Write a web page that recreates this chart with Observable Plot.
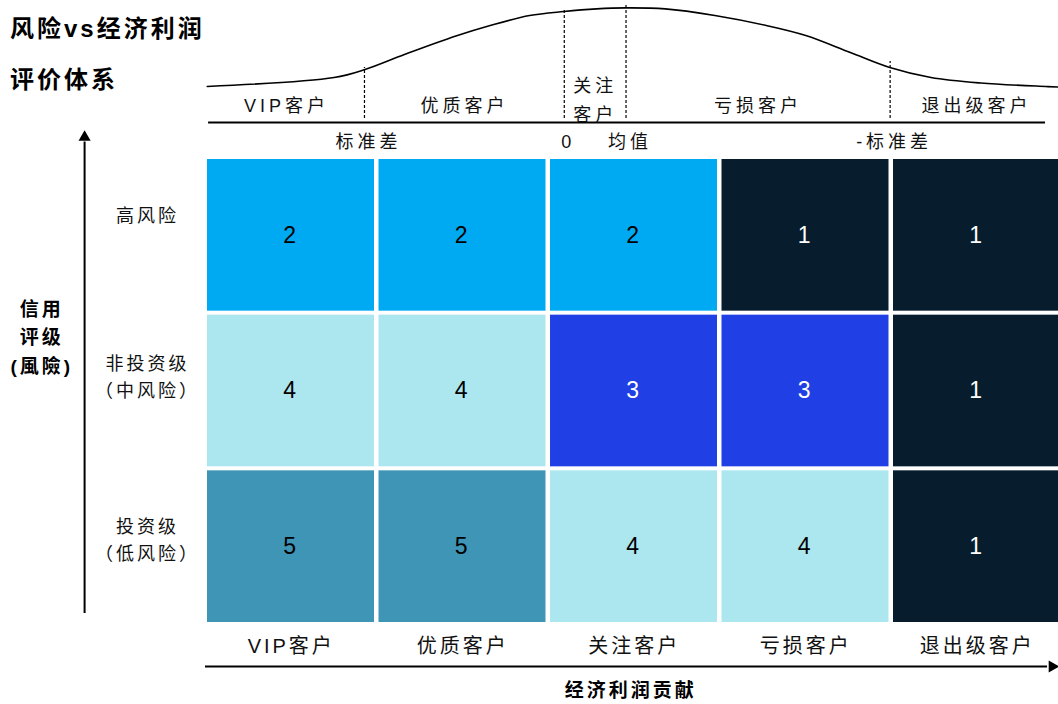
<!DOCTYPE html>
<html>
<head>
<meta charset="utf-8">
<script src="https://cdn.jsdelivr.net/npm/d3@7"></script>
<script src="https://cdn.jsdelivr.net/npm/@observablehq/plot@0.6"></script>
<style>
  html, body { margin: 0; padding: 0; background: #fff; }
  #page { position: relative; width: 1058px; height: 704px; overflow: hidden; }
  #page svg { position: absolute; left: 0; top: 0; }
  #title {
    position: absolute; left: 10px; top: 3px; z-index: 2;
    font-family: "Liberation Sans", "Noto Sans CJK SC", sans-serif;
    font-weight: bold; font-size: 24px; line-height: 51px; letter-spacing: 3px;
    color: #000;
  }
</style>
</head>
<body>
<div id="page">
  <div id="title">风险vs经济利润<br>评价体系</div>
</div>
<script>
// Customer grades along the economic-profit axis (left = highest contribution)
const grades = ["VIP客户", "优质客户", "关注客户", "亏损客户", "退出级客户"];
// Credit-rating rows, top to bottom
const riskLevels = ["高风险", "非投资级\n（中风险）", "投资级\n（低风险）"];
// Score of each grade within each rating row
const highRiskScores = [2, 2, 2, 1, 1];
const midRiskScores  = [4, 4, 3, 3, 1];
const lowRiskScores  = [5, 5, 4, 4, 1];

// Profit distribution curve (x in grade-column units, y = curve height)
const curveX = [0.01, 0.75, 0.93, 1.16, 1.46, 1.66, 1.89, 2.09, 2.28, 2.45, 2.68, 2.97, 3.27, 3.5, 3.76, 3.99, 4.23, 4.52, 4.9, 4.97];
const curveY = [36, 45, 53, 68, 86.5, 97, 107, 111, 113.6, 114.6, 113.6, 107, 97, 87, 70, 55, 45, 39.5, 36, 35.5];

// Segment boundaries under the curve and how high each dashed divider reaches
const boundaryX   = [0.927, 2.092, 2.452, 3.992];
const boundaryTop = [55, 112, 117.5, 61];
const boundaryLabels = ["标准差", "0", "均值", "-标准差"];
const segmentLabels = ["VIP客户", "优质客户", "关注\n客户", "亏损客户", "退出级客户"];
const curveStart = 0.018, curveEnd = 4.898;

const palette = ["#071C2C", "#00AAF2", "#2040E5", "#ACE6EF", "#3F95B5"];
const fontStack = "'Liberation Sans', 'Noto Sans CJK SC', sans-serif";

const scoreRows = [highRiskScores, midRiskScores, lowRiskScores];
const cells = scoreRows.flatMap((row, r) => row.map((value, c) => ({row: r, col: c, value})));
const lightText = d => d.value === 1 || d.value === 3;
// vertical placement of each rating label inside its row
const labelCenter = [0.36, 0.395, 0.445];

const xScale = {domain: [0, 5], range: [205, 1062.5], axis: null};

// Heatmap, rating axis, grade labels and profit axis
const grid = Plot.plot({
  width: 1058, height: 704, margin: 0,
  x: xScale,
  y: {domain: [0, 3], range: [157, 624], axis: null},
  color: {type: "ordinal", domain: [1, 2, 3, 4, 5], range: palette},
  style: {fontFamily: fontStack, background: "transparent", letterSpacing: "3px", color: "#000"},
  marks: [
    Plot.rect(cells, {
      x1: "col", x2: d => d.col + 1, y1: "row", y2: d => d.row + 1,
      fill: "value", insetLeft: 2, insetRight: 2.5, insetTop: 2, insetBottom: 2
    }),
    Plot.text(cells, {
      filter: d => !lightText(d), x: d => d.col + 0.5, y: d => d.row + 0.5,
      text: d => String(d.value), fill: "black", fontSize: 23
    }),
    Plot.text(cells, {
      filter: lightText, x: d => d.col + 0.5, y: d => d.row + 0.5,
      text: d => String(d.value), fill: "white", fontSize: 23
    }),
    Plot.text(riskLevels, {
      x: -0.338, y: (d, i) => i + labelCenter[i], text: d => d,
      fontSize: 18, lineHeight: 1.5, fill: "#111"
    }),
    Plot.text(grades, {x: (d, i) => i + 0.5, y: 3.145, text: d => d, fontSize: 20, fill: "#111"}),
    // vertical rating axis with arrow head
    Plot.ruleX([-0.705], {y1: 2.93, y2: -0.1, strokeWidth: 2, stroke: "black"}),
    Plot.dot([0], {x: -0.705, y: -0.13, symbol: "triangle", r: 4.5, fill: "black", stroke: null}),
    // horizontal profit axis with arrow head
    Plot.ruleY([3.27], {x1: 0, x2: 4.91, strokeWidth: 2, stroke: "black"}),
    Plot.dot([0], {x: 4.937, y: 3.27, symbol: "triangle", rotate: 90, r: 4.5, fill: "black", stroke: null}),
    Plot.text(["经济利润贡献"], {x: 2.48, y: 3.425, text: d => d, fontWeight: "bold", fontSize: 19}),
    Plot.text(["信用\n评级\n(風險)"], {x: -0.955, y: 1.14, text: d => d, fontWeight: "bold", fontSize: 19, lineHeight: 1.5})
  ]
});

// Distribution curve with segment dividers above the grid
const curvePoints = curveX.map((x, i) => ({x, y: curveY[i]}));
const boundaries = boundaryX.map((x, i) => ({x, top: boundaryTop[i], label: boundaryLabels[i]}));
const edges = [curveStart, ...boundaryX, 5];
const segments = segmentLabels.map((label, i) => ({label, x: (edges[i] + edges[i + 1]) / 2}));

const header = Plot.plot({
  width: 1058, height: 159, margin: 0,
  x: xScale,
  y: {domain: [0, 122], range: [122, 0], axis: null},
  style: {fontFamily: fontStack, background: "transparent", letterSpacing: "4px", color: "#000"},
  marks: [
    Plot.line(curvePoints, {x: "x", y: "y", curve: "catmull-rom", strokeWidth: 1.6, stroke: "black"}),
    Plot.ruleX(boundaries, {x: "x", y1: 4, y2: "top", strokeDasharray: "3,2", strokeWidth: 1.2, stroke: "black"}),
    Plot.ruleY([0], {x1: curveStart, x2: curveEnd, strokeWidth: 2, stroke: "black"}),
    Plot.text(segments, {
      x: "x", y: d => d.label.includes("\n") ? 25.5 : 20, text: "label",
      fontSize: 18, lineHeight: 1.6, fill: "#111"
    }),
    Plot.text(boundaries, {x: "x", y: -20, dx: 4, text: "label", fontSize: 18, fill: "#111"})
  ]
});

const page = document.getElementById("page");
page.appendChild(grid);
page.appendChild(header);
</script>
</body>
</html>
